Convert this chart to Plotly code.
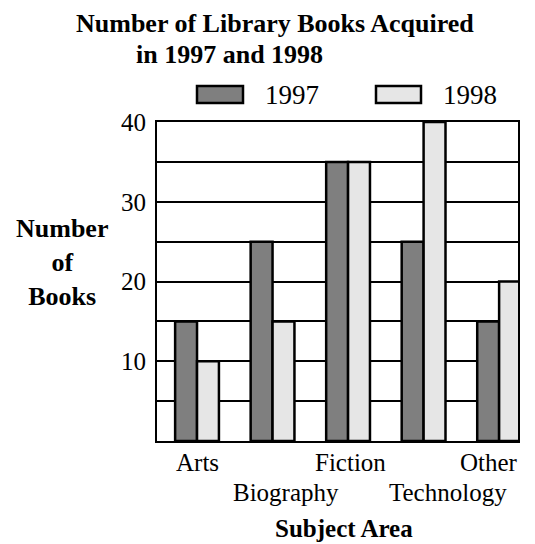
import plotly.graph_objects as go

categories = ["Arts", "Biography", "Fiction", "Technology", "Other"]
label_row = [0, 1, 0, 1, 0]
label_shift = [0, 13, 2, 24, -10]
books_1997 = [15, 25, 35, 25, 15]
books_1998 = [10, 15, 35, 40, 20]
y_tick_values = [10, 20, 30, 40]
series_names = ["1997", "1998"]

FONT = "Liberation Serif"
DARK = "#7f7f7f"
LIGHT = "#e6e6e6"

fig = go.Figure()
fig.add_trace(go.Bar(x=categories, y=books_1997, name=series_names[0],
                     marker=dict(color=DARK, line=dict(color="black", width=2.5)),
                     showlegend=False))
fig.add_trace(go.Bar(x=categories, y=books_1998, name=series_names[1],
                     marker=dict(color=LIGHT, line=dict(color="black", width=2.5)),
                     showlegend=False))

L, R, T, B = 157, 17, 122, 103
W, H = 535, 544
pw = W - L - R
ph = H - T - B

def px(x):
    return (x - L) / pw

def py(y):
    return (H - B - y) / ph

fig.update_layout(
    width=W, height=H,
    margin=dict(l=L, r=R, t=T, b=B, autoexpand=False),
    plot_bgcolor="white", paper_bgcolor="white",
    barmode="group", bargap=0.42, bargroupgap=0,
    font=dict(family=FONT, size=26, color="black"),
    xaxis=dict(
        type="category", range=[-0.53, 4.25],
        showticklabels=False,
        showline=True, linecolor="black", linewidth=2, mirror=True,
        ticks="", showgrid=False,
    ),
    yaxis=dict(
        range=[0, 40], tickvals=y_tick_values,
        showline=True, linecolor="black", linewidth=2, mirror=True,
        ticks="", ticklabelstandoff=4,
        showgrid=True, gridcolor="black", gridwidth=2,
        minor=dict(tick0=0, dtick=5, showgrid=True, gridcolor="black", gridwidth=2),
        zeroline=False, tickfont=dict(size=25),
    ),
)

# Staggered category labels
for cat, row, shift in zip(categories, label_row, label_shift):
    fig.add_annotation(xref="x", yref="paper", x=cat, y=py(462 + 30 * row),
                       xshift=shift, text=cat, showarrow=False,
                       xanchor="center", yanchor="middle", font=dict(size=25))

# Legend drawn manually (wide swatches as in the reference)
fig.add_shape(type="rect", xref="paper", yref="paper",
              x0=px(197), x1=px(243), y0=py(103), y1=py(86),
              fillcolor=DARK, line=dict(color="black", width=2.5))
fig.add_shape(type="rect", xref="paper", yref="paper",
              x0=px(376), x1=px(421), y0=py(103), y1=py(86),
              fillcolor=LIGHT, line=dict(color="black", width=2.5))

annos = [
    dict(text=series_names[0], x=px(263), y=py(95), xanchor="left", yanchor="middle", font=dict(size=27)),
    dict(text=series_names[1], x=px(441), y=py(95), xanchor="left", yanchor="middle", font=dict(size=27)),
    dict(text="<b>Number of Library Books Acquired</b>", x=px(74), y=py(24), xanchor="left", yanchor="middle", font=dict(size=26)),
    dict(text="<b>in 1997 and 1998</b>", x=px(134), y=py(55), xanchor="left", yanchor="middle", font=dict(size=26)),
    dict(text="<b>Number<br>of<br>Books</b>", x=px(62), y=py(262), xanchor="center", yanchor="middle", font=dict(size=26)),
    dict(text="<b>Subject Area</b>", x=px(344), y=py(528), xanchor="center", yanchor="middle", font=dict(size=25)),
]
for a in annos:
    fig.add_annotation(xref="paper", yref="paper", showarrow=False, **a)

fig.write_html("out.html", config={"displayModeBar": False},
               post_script="document.body.style.margin='0';")
